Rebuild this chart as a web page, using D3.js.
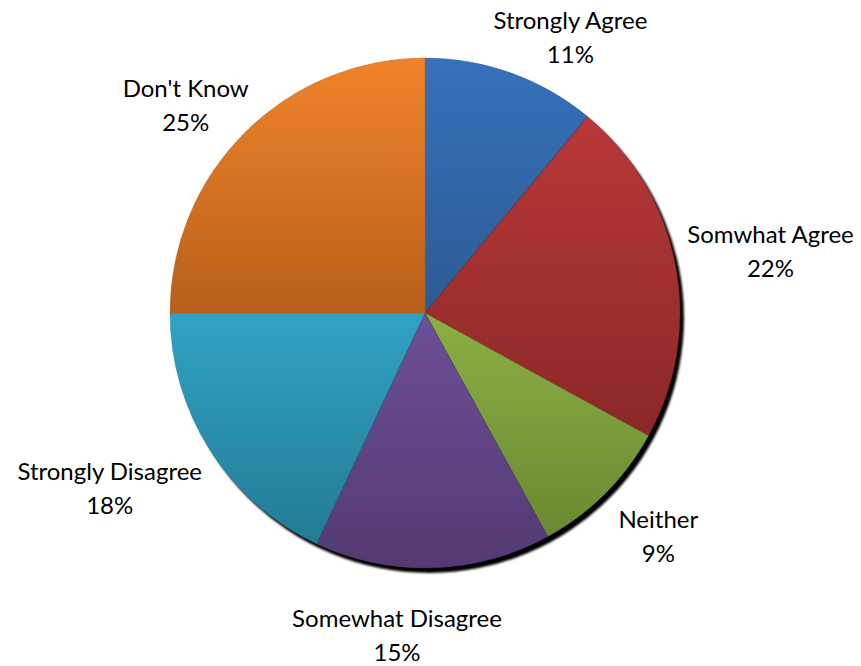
<!DOCTYPE html>
<html>
<head>
<meta charset="utf-8">
<script src="https://cdn.jsdelivr.net/npm/d3@7/dist/d3.min.js"></script>
<style>
  html, body { margin: 0; padding: 0; background: #fff; }
  svg { display: block; }
  text { font-family: Lato, "Open Sans", sans-serif; fill: #000; }
</style>
</head>
<body>
<svg id="chart" width="861" height="666"></svg>
<script>
// Survey responses, clockwise from 12 o'clock
const categories = ["Strongly Agree", "Somwhat Agree", "Neither", "Somewhat Disagree", "Strongly Disagree", "Don't Know"];
const percents = [11, 22, 9, 15, 18, 25];
// Slice fills: [top of slice, bottom of slice]
const topColors = ["#3671ba", "#b93838", "#8bb043", "#6c4f98", "#30a3c5", "#f0832a"];
const bottomColors = ["#2d5a94", "#8b2727", "#6a8832", "#533a71", "#237b94", "#b85f1a"];
// Label nudges relative to the slice's outer edge point
const labelNudge = [[59, -44], [95, -22], [53, 35], [-36, 59], [-100, 30], [-59, -36]];

const width = 861, height = 666;
const cx = 425, cy = 313, R = 255;

const svg = d3.select("#chart");
const defs = svg.append("defs");

categories.forEach((c, i) => {
  const g = defs.append("linearGradient")
    .attr("id", "grad" + i)
    .attr("x1", 0).attr("y1", 0).attr("x2", 0).attr("y2", 1);
  g.append("stop").attr("offset", "0%").attr("stop-color", topColors[i]);
  g.append("stop").attr("offset", "100%").attr("stop-color", bottomColors[i]);
});

const shadowBlur = defs.append("filter").attr("id", "shadowBlur")
  .attr("x", "-10%").attr("y", "-10%").attr("width", "120%").attr("height", "120%");
shadowBlur.append("feGaussianBlur").attr("stdDeviation", 0.8);

const data = categories.map((c, i) => ({ label: c, value: percents[i] }));

const pie = d3.pie().value(d => d.value).sort(null).startAngle(0).endAngle(2 * Math.PI);
const arcs = pie(data);
const arc = d3.arc().innerRadius(0).outerRadius(R);

const g = svg.append("g").attr("transform", `translate(${cx},${cy})`);

// Drop shadow behind the pie
g.append("circle")
  .attr("cx", 4).attr("cy", 5).attr("r", R)
  .attr("fill", "#000")
  .attr("filter", "url(#shadowBlur)");

g.selectAll("path.slice")
  .data(arcs)
  .join("path")
  .attr("class", "slice")
  .attr("d", arc)
  .attr("fill", (d, i) => `url(#grad${i})`)
  .attr("stroke", (d, i) => bottomColors[i])
  .attr("stroke-width", 0.4);

// Labels: category name and percentage on two lines
const edge = d3.arc().innerRadius(R).outerRadius(R);
const labels = g.selectAll("text.lbl")
  .data(arcs)
  .join("text")
  .attr("class", "lbl")
  .attr("text-anchor", "middle")
  .style("font-size", "24px")
  .attr("transform", (d, i) => {
    const [x, y] = edge.centroid(d);
    return `translate(${x + labelNudge[i][0]},${y + labelNudge[i][1]})`;
  });
labels.append("tspan").attr("x", 0).attr("y", 0).text(d => d.data.label);
labels.append("tspan").attr("x", 0).attr("y", 34).text(d => d.data.value + "%");
</script>
</body>
</html>
